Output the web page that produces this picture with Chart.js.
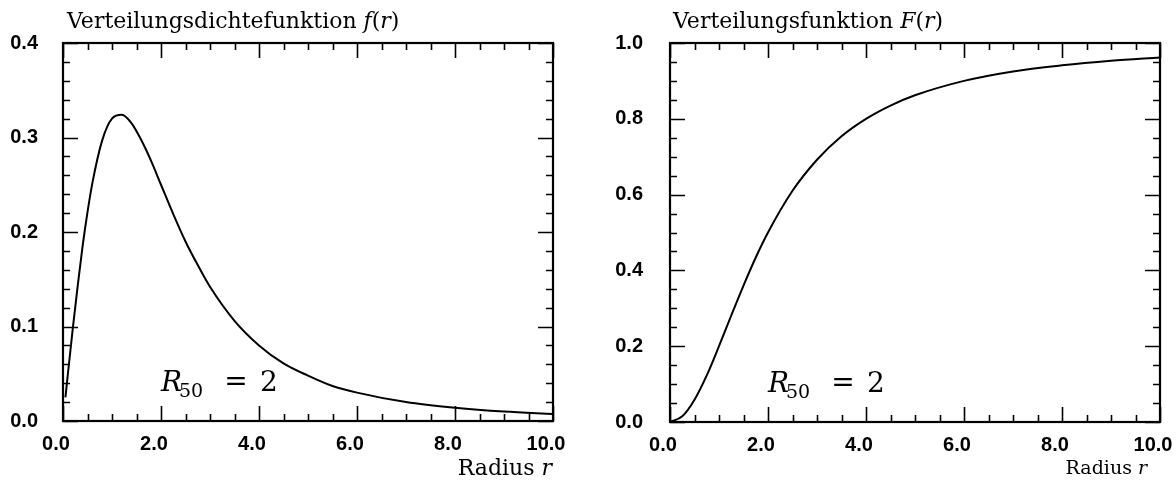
<!DOCTYPE html>
<html>
<head>
<meta charset="utf-8">
<script src="https://cdn.jsdelivr.net/npm/chart.js@4/dist/chart.umd.min.js"></script>
<style>
  html, body { margin: 0; padding: 0; background: #fff; }
  #wrap { position: relative; width: 1176px; height: 482px; }
  canvas { position: absolute; top: 0; }
  #densityChart { left: 0; }
  #cdfChart { left: 588px; }
</style>
</head>
<body>
<div id="wrap">
  <canvas id="densityChart" width="588" height="482"></canvas>
  <canvas id="cdfChart" width="588" height="482"></canvas>
</div>
<script>
// Dichte f(r)
const densityR = [0.05, 0.1, 0.2, 0.3, 0.4, 0.5, 0.6, 0.8, 1.0, 1.2, 1.4, 1.6, 1.8, 2.0, 2.25, 2.5, 2.75, 3.0, 3.5, 4.0, 4.5, 5.0, 5.5, 6.0, 7.0, 8.0, 9.0, 10.0];
const densityF = [0.025, 0.050, 0.098, 0.143, 0.185, 0.221, 0.252, 0.297, 0.320, 0.324, 0.315, 0.297, 0.275, 0.250, 0.219, 0.190, 0.165, 0.142, 0.106, 0.080, 0.061, 0.048, 0.037, 0.030, 0.020, 0.014, 0.010, 0.0075];

// Verteilung F(r)
const cdfR = [0.0, 0.25, 0.5, 0.75, 1.0, 1.25, 1.5, 1.75, 2.0, 2.5, 3.0, 3.5, 4.0, 4.5, 5.0, 6.0, 7.0, 8.0, 9.0, 10.0];
const cdfF = [0.0, 0.015, 0.059, 0.123, 0.200, 0.281, 0.360, 0.434, 0.500, 0.610, 0.692, 0.754, 0.800, 0.835, 0.862, 0.900, 0.925, 0.941, 0.953, 0.962];

const xTicks = [0, 2, 4, 6, 8, 10];
const densityTicks = [0, 0.1, 0.2, 0.3, 0.4];
const cdfTicks = [0, 0.2, 0.4, 0.6, 0.8, 1.0];

const R50 = 2;

const serif = "'DejaVu Serif', 'Liberation Serif', serif";
const sans = "'Liberation Sans', Arial, sans-serif";

// draws a row of text runs, each with its own font
function drawRuns(ctx, runs, x, y, align) {
  let total = 0;
  runs.forEach((r) => { ctx.font = r.font; total += ctx.measureText(r.text).width; });
  let cx = align === "right" ? x - total : x;
  runs.forEach((r) => {
    ctx.font = r.font;
    ctx.textAlign = "left";
    ctx.textBaseline = "alphabetic";
    ctx.fillText(r.text, cx, y + (r.dy || 0));
    cx += ctx.measureText(r.text).width;
  });
}

// frame with inward ticks on all four sides, plus the panel texts
const framePlugin = {
  id: "framePlugin",
  afterDatasetsDraw(chart, args, opts) {
    const { ctx, chartArea: a, scales: { x, y } } = chart;
    ctx.save();
    ctx.strokeStyle = "#000";
    ctx.fillStyle = "#000";

    ctx.lineWidth = 1.6;
    const xCount = Math.round((x.max - x.min) / opts.xMinor);
    for (let i = 0; i <= xCount; i++) {
      const px = Math.round(x.getPixelForValue(x.min + i * opts.xMinor)) + 0.5;
      const len = i % opts.xEvery === 0 ? 15 : 7;
      ctx.beginPath();
      ctx.moveTo(px, a.bottom); ctx.lineTo(px, a.bottom - len);
      ctx.moveTo(px, a.top); ctx.lineTo(px, a.top + len);
      ctx.stroke();
    }
    const yCount = Math.round((y.max - y.min) / opts.yMinor);
    for (let i = 0; i <= yCount; i++) {
      const py = Math.round(y.getPixelForValue(y.min + i * opts.yMinor)) + 0.5;
      const len = i % opts.yEvery === 0 ? 15 : 7;
      ctx.beginPath();
      ctx.moveTo(a.left, py); ctx.lineTo(a.left + len, py);
      ctx.moveTo(a.right, py); ctx.lineTo(a.right - len, py);
      ctx.stroke();
    }

    ctx.lineWidth = 2.2;
    ctx.strokeRect(a.left, a.top, a.right - a.left, a.bottom - a.top);

    // panel heading
    const tf = `${opts.titleSize}px ${serif}`;
    const ti = `italic ${opts.titleSize}px ${serif}`;
    drawRuns(ctx, [
      { text: opts.title, font: tf },
      { text: opts.symbol, font: ti },
      { text: "(", font: tf },
      { text: "r", font: ti },
      { text: ")", font: tf },
    ], a.left + opts.titleDx, 28, "left");

    // axis caption
    drawRuns(ctx, [
      { text: "Radius ", font: `${opts.captionSize}px ${serif}` },
      { text: "r", font: `italic ${opts.captionSize}px ${serif}` },
    ], a.right - opts.captionDx, opts.captionY, "right");

    // half-mass radius note
    const nx = x.getPixelForValue(R50);
    const ny = opts.noteY;
    ctx.textBaseline = "alphabetic";
    ctx.textAlign = "left";
    ctx.font = `italic 28px ${serif}`;
    ctx.fillText("R", nx, ny);
    ctx.font = `19px ${serif}`;
    ctx.fillText("50", nx + 18, ny + 6);
    ctx.textAlign = "center";
    ctx.font = `28px ${serif}`;
    ctx.fillText("=", nx + 75, ny - 1);
    ctx.fillText("2", nx + 108, ny);

    ctx.restore();
  },
};

function makePanel(id, rs, vals, yTicks, p) {
  const points = rs.map((r, i) => ({ x: r, y: vals[i] }));
  return new Chart(document.getElementById(id), {
    type: "line",
    data: {
      datasets: [{
        data: points,
        borderColor: "#000",
        borderWidth: 2,
        pointRadius: 0,
        fill: false,
        cubicInterpolationMode: "monotone",
      }],
    },
    options: {
      responsive: false,
      animation: false,
      layout: { padding: { top: 43, right: p.padRight, left: 0, bottom: 0 } },
      plugins: {
        legend: { display: false },
        tooltip: { enabled: false },
        framePlugin: p.frame,
      },
      scales: {
        x: {
          type: "linear",
          min: 0,
          max: 10,
          afterBuildTicks: (s) => { s.ticks = xTicks.map((v) => ({ value: v })); },
          afterFit: (s) => {
            s.height = p.xHeight;
            s.paddingLeft = 0;
            s.paddingRight = 0;
          },
          grid: { display: false, drawTicks: false },
          border: { display: false },
          ticks: {
            color: "#000",
            font: { family: sans, size: 20, weight: "bold" },
            padding: 11,
            labelOffset: -7,
            maxRotation: 0,
            callback: (v) => Number(v).toFixed(1),
          },
        },
        y: {
          min: yTicks[0],
          max: yTicks[yTicks.length - 1],
          afterBuildTicks: (s) => { s.ticks = yTicks.map((v) => ({ value: v })); },
          afterFit: (s) => {
            s.width = p.yWidth;
            s.paddingTop = 0;
            s.paddingBottom = 0;
          },
          grid: { display: false, drawTicks: false },
          border: { display: false },
          ticks: {
            color: "#000",
            font: { family: sans, size: 20, weight: "bold" },
            padding: p.yPad,
            callback: (v) => Number(v).toFixed(1),
          },
        },
      },
    },
    plugins: [framePlugin],
  });
}

makePanel("densityChart", densityR, densityF, densityTicks, {
  padRight: 35, xHeight: 61, yWidth: 63, yPad: 25,
  frame: {
    xMinor: 0.5, xEvery: 4, yMinor: 0.02, yEvery: 5,
    title: "Verteilungsdichtefunktion ", symbol: "f", titleSize: 22, titleDx: 4,
    captionSize: 22, captionDx: 1, captionY: 475, noteY: 391,
  },
});

makePanel("cdfChart", cdfR, cdfF, cdfTicks, {
  padRight: 16, xHeight: 60, yWidth: 82, yPad: 27,
  frame: {
    xMinor: 0.5, xEvery: 4, yMinor: 0.05, yEvery: 4,
    title: "Verteilungsfunktion ", symbol: "F", titleSize: 22, titleDx: 3,
    captionSize: 19, captionDx: 13, captionY: 474, noteY: 392,
  },
});
</script>
</body>
</html>
